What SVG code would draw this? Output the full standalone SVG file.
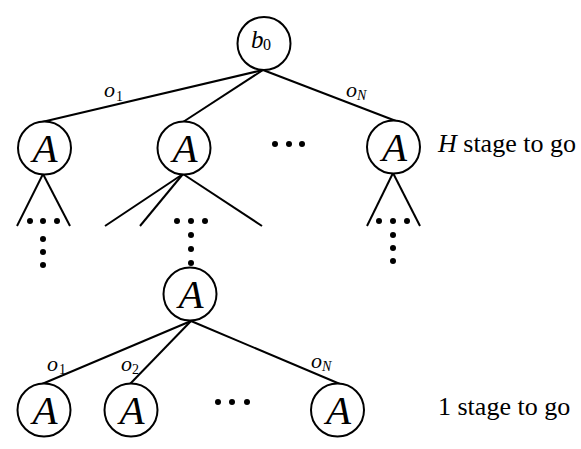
<svg xmlns="http://www.w3.org/2000/svg" width="581" height="449" viewBox="0 0 581 449">
<style>
.n{fill:#fff;stroke:#000;stroke-width:2}
.e{stroke:#000;stroke-width:2;fill:none}
text{font-family:"Liberation Serif","Times New Roman",Times,serif}
.A{font-style:italic;font-size:41px;text-anchor:middle}
.lb{font-style:italic;font-size:22px}
.sb{font-size:14px}
.sbi{font-style:italic;font-size:14px}
.t{font-size:26px}
.d{fill:#000}
</style>
<rect width="581" height="449" fill="#fff"/>
<g id="connectors">
<line class="e" x1="263" y1="70" x2="42" y2="122"/>
<line class="e" x1="263" y1="70" x2="183" y2="122"/>
<line class="e" x1="263" y1="70" x2="396" y2="121"/>
<line class="e" x1="43" y1="174" x2="17" y2="226"/>
<line class="e" x1="43" y1="174" x2="70" y2="226"/>
<line class="e" x1="183" y1="174" x2="105" y2="226"/>
<line class="e" x1="183" y1="174" x2="140" y2="226"/>
<line class="e" x1="183" y1="174" x2="262" y2="226"/>
<line class="e" x1="393" y1="173" x2="367" y2="226"/>
<line class="e" x1="393" y1="173" x2="420" y2="226"/>
<line class="e" x1="191" y1="321" x2="42" y2="384"/>
<line class="e" x1="191" y1="321" x2="130" y2="384"/>
<line class="e" x1="191" y1="321" x2="340" y2="384"/>
</g>
<g id="labels">
<text x="104" y="97" class="lb">o</text><text x="116" y="101" class="sb">1</text>
<text x="346" y="97" class="lb">o</text><text x="357" y="100" class="sbi">N</text>
<text x="47" y="371" class="lb">o</text><text x="59" y="374" class="sb">1</text>
<text x="121" y="371" class="lb">o</text><text x="132" y="374" class="sb">2</text>
<text x="311" y="368" class="lb">o</text><text x="322" y="371" class="sbi">N</text>
</g>
<g id="dots">
<circle class="d" cx="275" cy="144" r="3"/><circle class="d" cx="289" cy="144" r="3"/><circle class="d" cx="302" cy="144" r="3"/>
<circle class="d" cx="30" cy="221" r="3"/><circle class="d" cx="43" cy="221" r="3"/><circle class="d" cx="57" cy="221" r="3"/>
<circle class="d" cx="43" cy="239" r="3"/><circle class="d" cx="43" cy="252" r="3"/><circle class="d" cx="43" cy="265" r="3"/>
<circle class="d" cx="177" cy="221" r="3"/><circle class="d" cx="191" cy="221" r="3"/><circle class="d" cx="205" cy="221" r="3"/>
<circle class="d" cx="191" cy="235" r="3"/><circle class="d" cx="191" cy="249" r="3"/><circle class="d" cx="191" cy="263" r="3"/>
<circle class="d" cx="379" cy="221" r="3"/><circle class="d" cx="393" cy="221" r="3"/><circle class="d" cx="407" cy="221" r="3"/>
<circle class="d" cx="393" cy="235" r="3"/><circle class="d" cx="393" cy="248" r="3"/><circle class="d" cx="393" cy="261" r="3"/>
<circle class="d" cx="218" cy="402" r="3"/><circle class="d" cx="232" cy="402" r="3"/><circle class="d" cx="247" cy="402" r="3"/>
</g>
<g id="root"><circle class="n" cx="264" cy="43.5" r="26.5"/><text x="251" y="48" class="lb" style="font-size:25px">b</text><text x="263" y="50" style="font-size:16px">0</text></g>
<g id="a1"><circle class="n" cx="44.5" cy="148" r="26.5"/><text x="45" y="162" class="A">A</text></g>
<g id="a2"><circle class="n" cx="184" cy="148" r="26.5"/><text x="185" y="162" class="A">A</text></g>
<g id="a3"><circle class="n" cx="393.5" cy="147" r="26.5"/><text x="394.5" y="161" class="A">A</text></g>
<g id="amid"><circle class="n" cx="190" cy="294" r="26.5"/><text x="191" y="308" class="A">A</text></g>
<g id="b1"><circle class="n" cx="44" cy="410" r="26.5"/><text x="45" y="424" class="A">A</text></g>
<g id="b2"><circle class="n" cx="131" cy="410" r="26.5"/><text x="132" y="424" class="A">A</text></g>
<g id="b3"><circle class="n" cx="337.5" cy="410" r="26.5"/><text x="338.5" y="424" class="A">A</text></g>
<g id="stage-labels">
<text x="438" y="152" class="t"><tspan font-style="italic">H</tspan> stage to go</text>
<text x="438" y="415" class="t">1 stage to go</text>
</g>
</svg>
